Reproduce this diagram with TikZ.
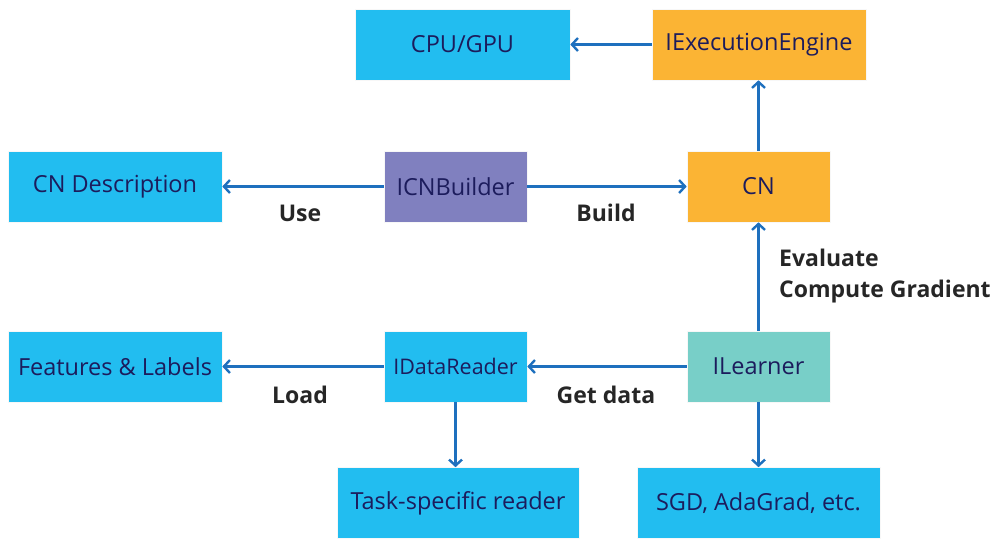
\documentclass[tikz,border=0pt]{standalone}
\usepackage{fontspec}
\setmainfont{Open Sans}
\usetikzlibrary{arrows.meta}
\definecolor{cy}{RGB}{34,189,240}
\definecolor{og}{RGB}{251,180,52}
\definecolor{pu}{RGB}{128,128,191}
\definecolor{tl}{RGB}{120,207,200}
\definecolor{ar}{RGB}{30,112,190}
\definecolor{bt}{RGB}{28,28,92}
\definecolor{lt}{RGB}{38,38,38}
\tikzset{
  box/.style={draw=white!70!black!10, line width=0.6pt, minimum height=71pt, inner sep=0pt, text=bt, font=\fontsize{23.5}{28}\selectfont},
  conn/.style={draw=ar, line width=2.4pt, -{Straight Barb[length=6pt,width=13pt,line width=2.4pt]}},
  lbl/.style={text=lt, font=\fontsize{23}{31}\selectfont\bfseries, inner sep=0pt}
}
\begin{document}
\begin{tikzpicture}[x=1pt,y=-1pt]
\path[use as bounding box] (0,0) rectangle (998,538);
\node[box, fill=cy, minimum width=215pt] (cpu) at (462.5,44.5) {CPU/GPU};
\node[box, fill=og, minimum width=214pt] (iee) at (759,44.5) {IExecutionEngine};
\node[box, fill=cy, minimum width=214pt] (cnd) at (115,186.5) {CN Description};
\node[box, fill=pu, minimum width=143pt] (icb) at (455.5,186.5) {ICNBuilder};
\node[box, fill=og, minimum width=143pt] (cn) at (758.5,186.5) {CN};
\node[box, fill=cy, minimum width=214pt] (fl) at (115,366.5) {Features \& Labels};
\node[box, fill=cy, minimum width=143pt, font=\fontsize{21.5}{26}\selectfont] (idr) at (455.5,366.5) {IDataReader};
\node[box, fill=tl, minimum width=143pt] (il) at (758.5,366.5) {ILearner};
\node[box, fill=cy, minimum width=242pt] (tsr) at (458,503) {Task-specific reader};
\node[box, fill=cy, minimum width=243pt] (sgd) at (758.5,503) {SGD, AdaGrad, etc.};

\draw[conn] (iee.west) -- (cpu.east);
\draw[conn] (cn.north) -- (cn.north |- iee.south);
\draw[conn] (icb.west) -- (cnd.east);
\draw[conn] (icb.east) -- (cn.west);
\draw[conn] (il.north) -- (cn.south);
\draw[conn] (idr.west) -- (fl.east);
\draw[conn] (il.west) -- (idr.east);
\draw[conn] (idr.south) -- (idr.south |- tsr.north);
\draw[conn] (il.south) -- (il.south |- sgd.north);

\node[lbl] (use) at (300,213) {Use};
\node[lbl] (build) at (606,213) {Build};
\node[lbl] (load) at (300,395) {Load};
\node[lbl] (get) at (606,395) {Get data};
\node[lbl, align=left, anchor=west] (eval) at (779,276) {Evaluate\\Compute Gradient};
\end{tikzpicture}
\end{document}
